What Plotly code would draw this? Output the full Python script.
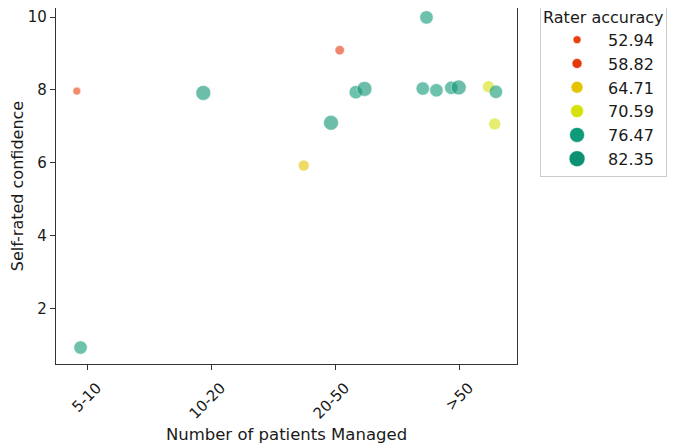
import plotly.graph_objects as go

categories = ["5-10", "10-20", "20-50", ">50"]
point_category = [0, 0, 1, 2, 2, 2, 2, 2, 3, 3, 3, 3, 3, 3, 3, 3]
point_jitter = [-0.09, -0.06, -0.07, -0.26, -0.04, 0.03, 0.16, 0.23,
                -0.30, -0.27, -0.19, -0.07, -0.01, 0.23, 0.29, 0.28]
confidence = [7.97, 0.94, 7.92, 5.93, 7.10, 9.09, 7.94, 8.03,
              8.04, 9.99, 7.99, 8.06, 8.07, 8.09, 7.95, 7.07]
accuracy = [52.94, 76.47, 82.35, 64.71, 82.35, 58.82, 76.47, 82.35,
            76.47, 76.47, 76.47, 76.47, 82.35, 70.59, 76.47, 70.59]

accuracy_levels = [52.94, 58.82, 64.71, 70.59, 76.47, 82.35]
level_colors = ["#e8400c", "#e3390a", "#e6c300", "#d6e00a", "#0f9a78", "#0c9272"]
level_sizes = [8, 9.5, 11, 12, 13.5, 15]
legend_sizes = [8, 10, 12, 13, 15, 16]

fig = go.Figure()
for lvl, col, sz, lsz in zip(accuracy_levels, level_colors, level_sizes, legend_sizes):
    xs = [point_category[i] + point_jitter[i] for i in range(len(accuracy)) if accuracy[i] == lvl]
    ys = [confidence[i] for i in range(len(accuracy)) if accuracy[i] == lvl]
    fig.add_trace(go.Scatter(
        x=xs, y=ys, mode="markers", showlegend=False,
        marker=dict(color=col, size=sz, opacity=0.6, line=dict(color="white", width=0.6)),
        hoverinfo="x+y",
    ))
    fig.add_trace(go.Scatter(
        x=[None], y=[None], mode="markers", name=f"{lvl:.2f}", legendgroup=str(lvl),
        marker=dict(color=col, size=lsz, line=dict(color="white", width=0.6)),
    ))

font = "DejaVu Sans, Liberation Sans, sans-serif"
fig.update_layout(
    width=680, height=444,
    margin=dict(l=48, r=171, t=0, b=88, autoexpand=False),
    paper_bgcolor="white", plot_bgcolor="white",
    font=dict(family=font, size=15, color="#1a1a1a"),
    legend=dict(
        title=dict(text="Rater accuracy", font=dict(size=16)),
        x=1.05, xanchor="left", y=1.0197, yanchor="top",
        bordercolor="#cccccc", borderwidth=1,
        font=dict(size=16), itemsizing="trace",
        tracegroupgap=0, itemwidth=52, indentation=5,
    ),
    xaxis=dict(
        range=[-0.258, 3.46], tickmode="array",
        tickvals=list(range(len(categories))), ticktext=categories,
        tickangle=-45, ticks="outside", ticklen=5, tickcolor="#333",
        ticklabelshift=9, ticklabelstandoff=3,
        showline=True, linecolor="#333", linewidth=1.2, mirror=True,
        showgrid=False, zeroline=False, automargin=False,
        title=dict(text="Number of patients Managed", standoff=6, font=dict(size=16.5)),
    ),
    yaxis=dict(
        range=[0.49, 10.247], tickvals=[2, 4, 6, 8, 10],
        ticks="outside", ticklen=5, tickcolor="#333",
        showline=True, linecolor="#333", linewidth=1.2, mirror=True,
        showgrid=False, zeroline=False, automargin=False,
        title=dict(text="Self-rated confidence", standoff=12, font=dict(size=16)),
    ),
)

fig.write_html("out.html")
